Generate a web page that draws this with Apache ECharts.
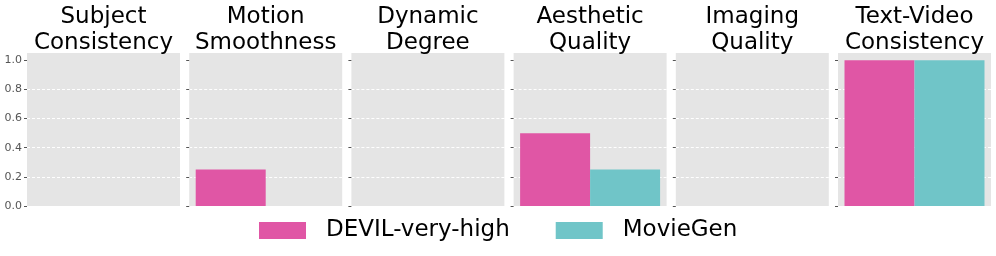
<!DOCTYPE html>
<html><head><meta charset="utf-8">
<script src="https://cdn.jsdelivr.net/npm/echarts@6/dist/echarts.min.js"></script>
<style>html,body{margin:0;padding:0;background:#fff}#c{width:996px;height:256px}</style>
</head><body><div id="c"></div>
<script>
const metrics = ['Subject\nConsistency', 'Motion\nSmoothness', 'Dynamic\nDegree', 'Aesthetic\nQuality', 'Imaging\nQuality', 'Text-Video\nConsistency'];
const seriesNames = ['DEVIL-very-high', 'MovieGen'];
const devilValues = [0, 0.25, 0, 0.5, 0, 1.0];
const movieGenValues = [0, 0, 0, 0.25, 0, 1.0];
const yTicks = [0.0, 0.2, 0.4, 0.6, 0.8, 1.0];
const colors = ['#e056a5', '#70c5c8'];

const chart = echarts.init(document.getElementById('c'));
const grids = [], xAxes = [], yAxes = [], series = [], graphics = [];
const font = 'DejaVu Sans';
metrics.forEach((m, i) => {
  const left = 27 + i * 162.2;
  grids.push({left: left, top: 53, width: 153, height: 153, show: true, backgroundColor: '#e5e5e5', borderWidth: 0});
  xAxes.push({type: 'category', gridIndex: i, data: [m], axisLine: {show: false}, axisTick: {show: false}, axisLabel: {show: false}});
  yAxes.push({type: 'value', gridIndex: i, min: 0, max: 1.05, interval: 0.2,
    axisLine: {show: false},
    axisTick: {show: true, length: 3, lineStyle: {color: '#555'}, customValues: yTicks},
    axisLabel: {show: i === 0, fontFamily: font, fontSize: 11, color: '#555', margin: 5,
      customValues: yTicks, formatter: v => v.toFixed(1)},
    splitLine: {show: true, showMaxLine: false, showMinLine: false, lineStyle: {color: '#ffffff', type: [3, 2], width: 1}}
  });
  const lines = m.split('\n');
  lines.forEach((ln, k) => {
    graphics.push({type: 'text', x: left + 76.5, y: 6 + k * 26, silent: true,
      style: {text: ln, font: '23px "DejaVu Sans"', fill: '#000', textAlign: 'center', verticalAlign: 'top'}});
  });
  series.push({name: seriesNames[0], type: 'bar', xAxisIndex: i, yAxisIndex: i, data: [devilValues[i]],
    itemStyle: {color: colors[0]}, barGap: '0%', barCategoryGap: '8.5%'});
  series.push({name: seriesNames[1], type: 'bar', xAxisIndex: i, yAxisIndex: i, data: [movieGenValues[i]],
    itemStyle: {color: colors[1]}, barGap: '0%', barCategoryGap: '8.5%'});
});
chart.setOption({
  animation: false,
  graphic: graphics,
  grid: grids, xAxis: xAxes, yAxis: yAxes, series: series,
  legend: {data: seriesNames, left: 254, top: 214, itemWidth: 47, itemHeight: 17, itemGap: 46,
    icon: 'rect',
    textStyle: {fontFamily: font, fontSize: 23, color: '#000', padding: [0, 0, 0, 15]}}
});
</script></body></html>
